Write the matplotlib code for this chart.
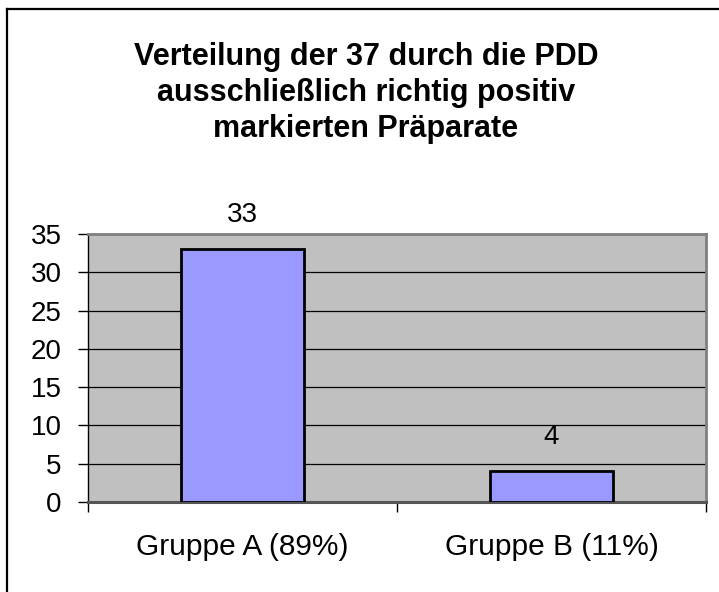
import matplotlib.pyplot as plt
from matplotlib.lines import Line2D

plt.rcParams['font.family'] = ['Liberation Sans', 'DejaVu Sans']

# Daten
gruppen = ['Gruppe A (89%)', 'Gruppe B (11%)']
anzahl = [33, 4]
y_ticks = [0, 5, 10, 15, 20, 25, 30, 35]
titel = 'Verteilung der 37 durch die PDD\nausschließlich richtig positiv\nmarkierten Präparate'

W, H = 719, 592
fig = plt.figure(figsize=(W / 100, H / 100), dpi=100)

# Rahmen (oben / links)
fig.add_artist(Line2D([7 / W, 1], [1 - 9 / H, 1 - 9 / H], color='black', lw=1.6))
fig.add_artist(Line2D([7 / W, 7 / W], [0, 1 - 9 / H], color='black', lw=1.6))

ax = fig.add_axes([88 / W, (H - 502) / H, 618 / W, 268 / H])
ax.set_facecolor('#C0C0C0')

x = list(range(len(gruppen)))
ax.bar(x, anzahl, width=0.4, color='#9999FF', edgecolor='black', linewidth=2, zorder=3)
for xi, v in zip(x, anzahl):
    ax.annotate(str(v), (xi, v), xytext=(0, 25), textcoords='offset points',
                ha='center', va='center', fontsize=20)

ax.set_xlim(-0.5, len(gruppen) - 0.5)
ax.set_ylim(0, 35)
ax.set_yticks(y_ticks)
ax.yaxis.grid(True, color='black', lw=0.9, zorder=1)
ax.set_axisbelow(True)

ax.set_xticks(x)
ax.set_xticklabels(gruppen, fontsize=21.5)
ax.set_xticks([-0.5, 0.5, 1.5], minor=True)
ax.tick_params(axis='x', which='major', length=0, pad=22)
ax.tick_params(axis='x', which='minor', length=7, width=1, color='black')
ax.tick_params(axis='y', length=7, width=1, labelsize=20, pad=12)

for s in ['top', 'right']:
    ax.spines[s].set_color('#808080')
    ax.spines[s].set_linewidth(2)
ax.spines['bottom'].set_color('#555555')
ax.spines['bottom'].set_linewidth(2.2)
ax.spines['left'].set_color('black')
ax.spines['left'].set_linewidth(1)

fig.text(366 / W, 1 - 93 / H, titel, ha='center', va='center', fontsize=22,
         fontweight='bold', linespacing=1.24, multialignment='center')

fig.savefig('out.png', dpi=100)
